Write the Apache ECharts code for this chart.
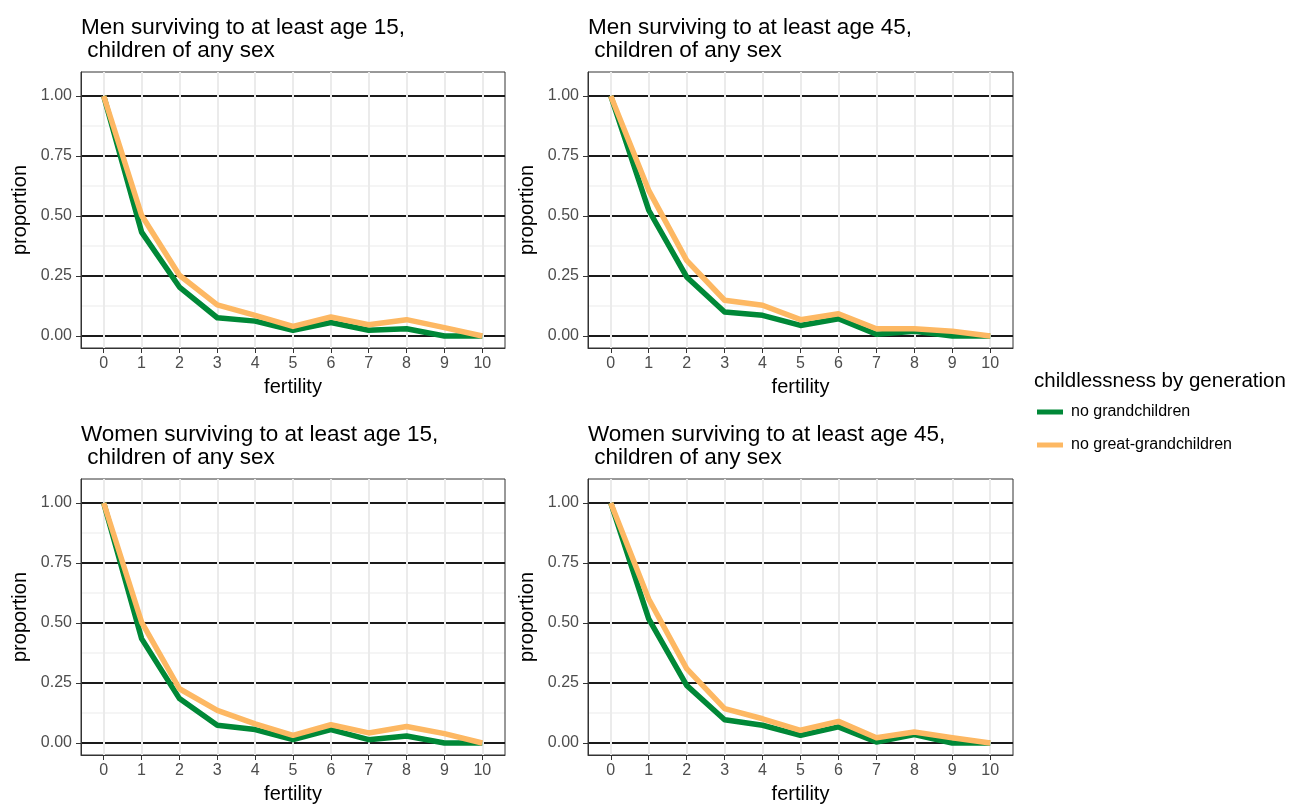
<!DOCTYPE html>
<html>
<head>
<meta charset="utf-8">
<script src="https://cdn.jsdelivr.net/npm/echarts@6/dist/echarts.min.js"></script>
<style>
html,body{margin:0;padding:0;background:#fff;}
#chart{width:1290px;height:805px;}
</style>
</head>
<body>
<div id="chart"></div>
<script>
// ---- data ----
var fertility = [0, 1, 2, 3, 4, 5, 6, 7, 8, 9, 10];
var yTicks = [0, 0.25, 0.5, 0.75, 1.0];
var yMinorTicks = [0.125, 0.375, 0.625, 0.875];
var seriesNames = ['no grandchildren', 'no great-grandchildren'];
var panelTitles = [
  'Men surviving to at least age 15,\n children of any sex',
  'Men surviving to at least age 45,\n children of any sex',
  'Women surviving to at least age 15,\n children of any sex',
  'Women surviving to at least age 45,\n children of any sex'
];
var men15Grand      = [1, 0.433, 0.204, 0.076, 0.062, 0.024, 0.056, 0.024, 0.030, 0, 0];
var men15GreatGrand = [1, 0.503, 0.253, 0.130, 0.086, 0.040, 0.079, 0.047, 0.068, 0.035, 0];
var men45Grand      = [1, 0.524, 0.246, 0.100, 0.086, 0.044, 0.072, 0.007, 0.020, 0, 0];
var men45GreatGrand = [1, 0.607, 0.315, 0.149, 0.128, 0.068, 0.093, 0.030, 0.030, 0.020, 0];
var women15Grand      = [1, 0.435, 0.185, 0.074, 0.056, 0.014, 0.056, 0.014, 0.029, 0, 0];
var women15GreatGrand = [1, 0.504, 0.226, 0.136, 0.080, 0.032, 0.076, 0.042, 0.069, 0.039, 0];
var women45Grand      = [1, 0.517, 0.240, 0.097, 0.074, 0.032, 0.067, 0.004, 0.035, 0, 0];
var women45GreatGrand = [1, 0.600, 0.310, 0.143, 0.101, 0.053, 0.090, 0.022, 0.046, 0.022, 0];
var panelData = [
  [men15Grand, men15GreatGrand],
  [men45Grand, men45GreatGrand],
  [women15Grand, women15GreatGrand],
  [women45Grand, women45GreatGrand]
];

// ---- layout / style ----
var FONT = '"Liberation Sans", Arial, sans-serif';
var colors = ['#008837', '#FDB863'];
var grids = [
  {left: 81, top: 72, width: 424, height: 276},
  {left: 588, top: 72, width: 425, height: 276},
  {left: 81, top: 479, width: 424, height: 276},
  {left: 588, top: 479, width: 425, height: 276}
];
var titleTops = [16, 16, 423, 423];

var option = {
  backgroundColor: '#fff',
  animation: false,
  title: [],
  grid: [],
  xAxis: [],
  yAxis: [],
  series: [],
  legend: {
    orient: 'vertical',
    left: 1037,
    top: 402,
    padding: 0,
    itemWidth: 26,
    itemHeight: 5,
    itemGap: 13,
    icon: 'rect',
    data: seriesNames,
    textStyle: {fontFamily: FONT, fontSize: 16, color: '#000', lineHeight: 20, padding: [0, 0, 0, 3]}
  }
};

option.title.push({
  text: 'childlessness by generation',
  left: 1034, top: 371, padding: 0,
  textStyle: {fontFamily: FONT, fontSize: 20.5, fontWeight: 'normal', color: '#000'}
});

for (var p = 0; p < 4; p++) {
  var g = grids[p];
  option.grid.push({
    left: g.left, top: g.top, width: g.width, height: g.height,
    show: true, borderColor: '#333333', borderWidth: 1, backgroundColor: 'transparent',
    containLabel: false
  });
  option.title.push({
    text: panelTitles[p],
    left: g.left, top: titleTops[p], padding: 0,
    textStyle: {fontFamily: FONT, fontSize: 22.5, lineHeight: 23, fontWeight: 'normal', color: '#000'}
  });
  option.xAxis.push({
    type: 'value', gridIndex: p, min: -0.6, max: 10.6, z: 1,
    name: 'fertility', nameLocation: 'middle', nameGap: 29,
    nameTextStyle: {fontFamily: FONT, fontSize: 20, color: '#000'},
    axisLine: {show: true, onZero: false, lineStyle: {color: '#333', width: 1}},
    axisTick: {show: true, length: 5, lineStyle: {color: '#333', width: 1}, customValues: fertility},
    axisLabel: {fontFamily: FONT, fontSize: 16, color: '#4D4D4D', margin: 8, customValues: fertility},
    splitLine: {show: true, lineStyle: {color: '#EBEBEB', width: 2}}
  });
  // main y axis
  option.yAxis.push({
    type: 'value', gridIndex: p, min: -0.05, max: 1.1,
    name: 'proportion', nameLocation: 'middle', nameGap: 51, nameRotate: 90,
    nameTextStyle: {fontFamily: FONT, fontSize: 20, color: '#000'},
    axisLine: {show: true, onZero: false, lineStyle: {color: '#333', width: 1}},
    axisTick: {show: true, length: 5, lineStyle: {color: '#333', width: 1}, customValues: yTicks},
    axisLabel: {fontFamily: FONT, fontSize: 16, color: '#4D4D4D', margin: 9, customValues: yTicks,
      formatter: function (v) { return v.toFixed(2); }},
    splitLine: {show: true, lineStyle: {color: '#1A1A1A', width: 2}}
  });
}
// minor y axes (light grid)
for (var q = 0; q < 4; q++) {
  option.yAxis.push({
    type: 'value', gridIndex: q, min: -0.05, max: 1.1, z: -1,
    axisLine: {show: false, onZero: false},
    axisTick: {show: false, customValues: yMinorTicks},
    axisLabel: {show: false, customValues: yMinorTicks},
    splitLine: {show: true, lineStyle: {color: '#F2F2F2', width: 1.5}}
  });
}

for (var k = 0; k < 4; k++) {
  for (var s = 0; s < 2; s++) {
    var vals = panelData[k][s];
    option.series.push({
      type: 'line',
      name: seriesNames[s],
      xAxisIndex: k,
      yAxisIndex: k,
      showSymbol: false,
      symbol: 'none',
      z: 3 + s,
      lineStyle: {color: colors[s], width: 5.5, join: 'round'},
      itemStyle: {color: colors[s]},
      data: fertility.map(function (f, i) { return [f, vals[i]]; })
    });
  }
}

var chart = echarts.init(document.getElementById('chart'), null, {renderer: 'canvas'});
chart.setOption(option);
</script>
</body>
</html>
